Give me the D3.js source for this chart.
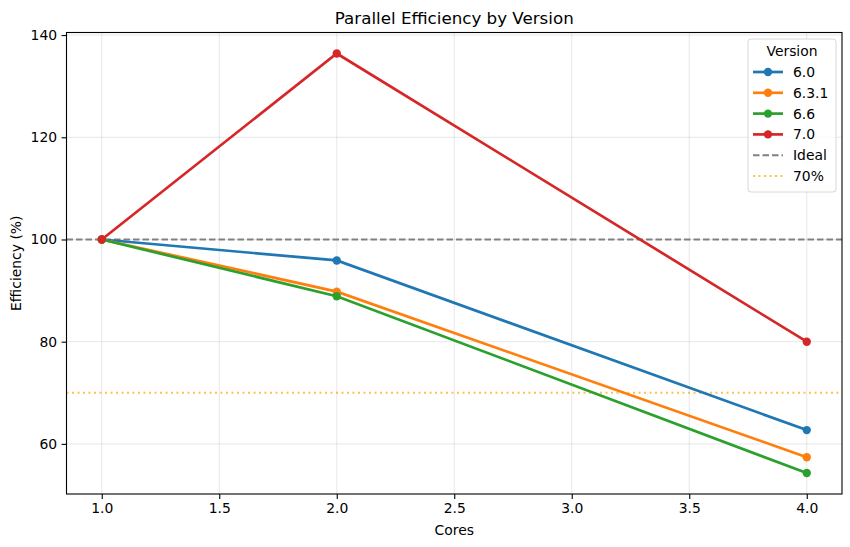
<!DOCTYPE html>
<html lang="en">
<head>
<meta charset="utf-8">
<title>Parallel Efficiency by Version</title>
<script src="https://d3js.org/d3.v7.min.js"></script>
<style>
  body { margin: 0; background: #fff; }
  text { font-family: "DejaVu Sans", sans-serif; }
</style>
</head>
<body>
<script>
// data
var cores = [1, 2, 4];
var versions = ["6.0", "6.3.1", "6.6", "7.0"];
var eff60 = [100, 95.9, 62.7];
var eff631 = [100, 89.8, 57.4];
var eff66 = [100, 88.9, 54.3];
var eff70 = [100, 136.4, 80.0];
var colors = ["#1f77b4", "#ff7f0e", "#2ca02c", "#d62728"];
var xTicks = [1.0, 1.5, 2.0, 2.5, 3.0, 3.5, 4.0];
var yTicks = [60, 80, 100, 120, 140];
var idealLine = 100;
var targetLine = 70;

var series = [eff60, eff631, eff66, eff70];

// svg size and plot box
var w = 850, h = 547;
var pL = 66.5, pR = 842, pT = 32.5, pB = 494;
var lw = 2.7;       // series line width
var refW = 2;       // reference line width
var dashed = "6.5,3";
var dotted = "2,3.5";

var svg = d3.select("body").append("svg").attr("width", w).attr("height", h);

// scales with matplotlib style 5% margins
var xmin = d3.min(cores), xmax = d3.max(cores);
var xpad = (xmax - xmin) * 0.05;
var allY = [].concat(eff60, eff631, eff66, eff70);
var ymin = d3.min(allY), ymax = d3.max(allY);
var ypad = (ymax - ymin) * 0.05;

var xScale = d3.scaleLinear().domain([xmin - xpad, xmax + xpad]).range([pL, pR]);
var yScale = d3.scaleLinear().domain([ymin - ypad, ymax + ypad]).range([pB, pT]);

// grid
var grid = svg.append("g");
grid.selectAll("line.gx").data(xTicks).enter().append("line")
  .attr("x1", d => xScale(d)).attr("x2", d => xScale(d))
  .attr("y1", pT).attr("y2", pB)
  .attr("stroke", "#b0b0b0").attr("stroke-opacity", 0.3).attr("stroke-width", 1);
grid.selectAll("line.gy").data(yTicks).enter().append("line")
  .attr("y1", d => yScale(d)).attr("y2", d => yScale(d))
  .attr("x1", pL).attr("x2", pR)
  .attr("stroke", "#b0b0b0").attr("stroke-opacity", 0.3).attr("stroke-width", 1);

// reference lines
svg.append("line").attr("x1", pL).attr("x2", pR)
  .attr("y1", yScale(idealLine)).attr("y2", yScale(idealLine))
  .attr("stroke", "#808080").attr("stroke-width", refW).attr("stroke-dasharray", dashed);
svg.append("line").attr("x1", pL).attr("x2", pR)
  .attr("y1", yScale(targetLine)).attr("y2", yScale(targetLine))
  .attr("stroke", "orange").attr("stroke-opacity", 0.7).attr("stroke-width", refW).attr("stroke-dasharray", dotted);

// lines + markers
var line = d3.line().x((d, i) => xScale(cores[i])).y(d => yScale(d));
series.forEach(function(s, k) {
  svg.append("path").datum(s).attr("d", line)
    .attr("fill", "none").attr("stroke", colors[k]).attr("stroke-width", lw);
  svg.selectAll("circle.s" + k).data(s).enter().append("circle")
    .attr("cx", (d, i) => xScale(cores[i])).attr("cy", d => yScale(d))
    .attr("r", 4.2).attr("fill", colors[k]);
});

// axes
var xAxis = d3.axisBottom(xScale).tickValues(xTicks).tickFormat(d3.format(".1f")).tickSize(4.9).tickPadding(4.5);
var yAxis = d3.axisLeft(yScale).tickValues(yTicks).tickSize(4.9).tickPadding(4.5);
var gx = svg.append("g").attr("transform", `translate(0,${pB})`).call(xAxis);
var gy = svg.append("g").attr("transform", `translate(${pL},0)`).call(yAxis);
[gx, gy].forEach(function(g) {
  g.select(".domain").remove();
  g.selectAll("text").attr("font-size", "13.9px").attr("fill", "#000").style("font-family", "DejaVu Sans");
  g.selectAll("line").attr("stroke", "#000").attr("stroke-width", 1.1);
});

// frame
svg.append("rect").attr("x", pL).attr("y", pT).attr("width", pR - pL).attr("height", pB - pT)
  .attr("fill", "none").attr("stroke", "#000").attr("stroke-width", 1.1);

// labels
svg.append("text").attr("x", (pL + pR) / 2).attr("y", 24).attr("text-anchor", "middle")
  .attr("font-size", "16.7px").text("Parallel Efficiency by Version");
svg.append("text").attr("x", (pL + pR) / 2).attr("y", 535).attr("text-anchor", "middle")
  .attr("font-size", "13.9px").text("Cores");
svg.append("text").attr("transform", `translate(21,${(pT + pB) / 2}) rotate(-90)`)
  .attr("text-anchor", "middle").attr("font-size", "13.9px").text("Efficiency (%)");

// legend
var lg = svg.append("g").attr("transform", "translate(748,39)");
lg.append("rect").attr("width", 88).attr("height", 153).attr("rx", 3)
  .attr("fill", "#fff").attr("fill-opacity", 0.8).attr("stroke", "#d8d8d8");
lg.append("text").attr("x", 44).attr("y", 17).attr("text-anchor", "middle")
  .attr("font-size", "13.9px").text("Version");
var entries = versions.map((v, i) => ({label: v, color: colors[i], type: "marker"}));
entries.push({label: "Ideal", color: "#808080", type: "dash"});
entries.push({label: "70%", color: "orange", type: "dot"});
entries.forEach(function(e, i) {
  var y = 33 + i * 20.8;
  var l = lg.append("line").attr("x1", 5).attr("x2", 35).attr("y1", y).attr("y2", y)
    .attr("stroke", e.color).attr("stroke-width", e.type === "marker" ? lw : refW);
  if (e.type === "dash") l.attr("stroke-dasharray", dashed);
  if (e.type === "dot") l.attr("stroke-dasharray", dotted).attr("stroke-opacity", 0.7);
  if (e.type === "marker") lg.append("circle").attr("cx", 20).attr("cy", y).attr("r", 4.2).attr("fill", e.color);
  lg.append("text").attr("x", 45).attr("y", y + 5).attr("font-size", "13.9px").text(e.label);
});
</script>
</body>
</html>
